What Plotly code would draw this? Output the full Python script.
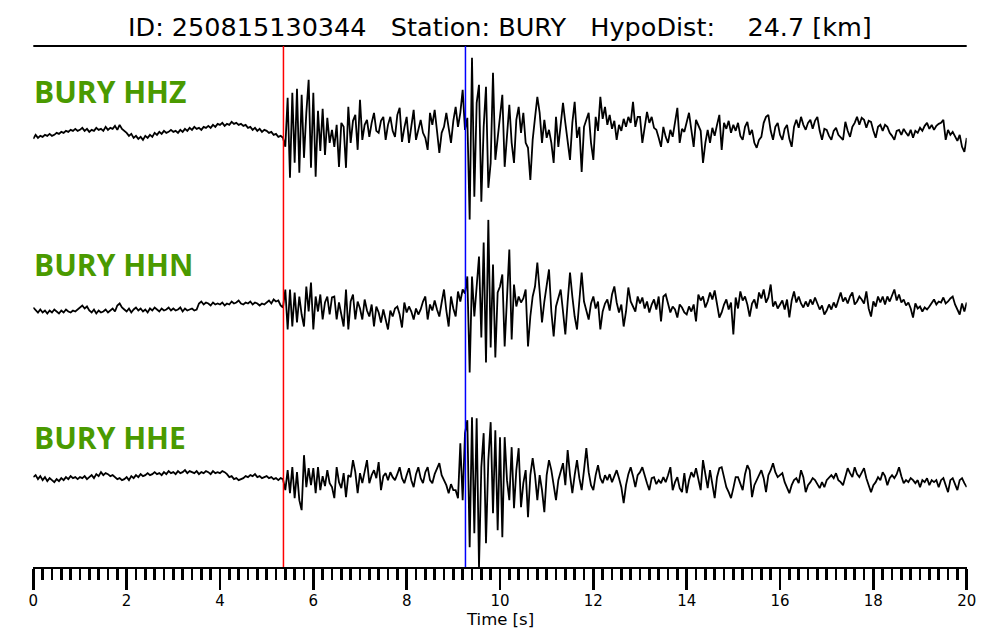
import plotly.graph_objects as go

# ---------------- data ----------------
SAMPLE_INTERVAL = 0.05   # seconds between samples
P_PICK = 5.36            # s (red line)
S_PICK = 9.26            # s (blue line)
CHANNELS = ["BURY HHZ", "BURY HHN", "BURY HHE"]
TITLE = "ID: 250815130344   Station: BURY   HypoDist:    24.7 [km]"
X_TICKS = [0, 2, 4, 6, 8, 10, 12, 14, 16, 18, 20]

hhz = [
    -6, -2, -5, -3, -4, -2, -3, -1, -3, -2, 0, -1, 1, 0, 2, 1, 3, 2, 4, 2,
    3, 5, 2, 4, 1, 3, 2, 5, 3, 4, 2, 6, 3, 5, 4, 7, 3, 8, 4, 2,
    0, -3, -1, -5, -3, -6, -4, -7, -3, -5, -2, -4, 0, -2, 1, -1, 2, 0, 1, 3,
    1, 2, 0, 3, 1, 4, 2, 5, 3, 6, 4, 5, 3, 6, 5, 7, 5, 8, 6, 9,
    8, 10, 7, 9, 8, 11, 9, 10, 8, 9, 7, 8, 5, 6, 3, 5, 2, 4, 1, 3,
    2, 0, 1, -2, -1, -4, -3, -5, -14, 35, -45, 40, -30, 44, -40, 38, -25, 20, 53, -35,
    40, -44, 22, -18, 24, -22, 15, -10, 3, -14, 8, -34, 10, 6, -35, 26, -10, 12, 18, -17,
    33, -7, 8, 13, -4, 10, 20, 2, 0, 12, 16, -7, 8, 16, 2, -4, 18, 25, -9, 5,
    16, -10, 5, 23, -7, 4, 13, 0, -5, -17, 20, 8, 23, 2, -20, 0, 6, 20, 3, -10,
    12, 26, 6, 20, 43, 3, 15, -87, 75, -64, 30, 48, -69, 6, 46, -55, -30, 60, -27, -4,
    20, 38, -34, 0, 28, -10, -30, 13, 26, 0, 20, -10, -15, -47, -7, 15, 36, 20, -10, 13,
    -5, 3, -10, -30, 16, -14, 5, 30, 10, -12, -27, 10, 31, -5, 6, -39, 6, 13, 20, -10,
    -27, 16, 2, 36, 14, 26, 8, 18, 4, 12, -7, 8, 2, 14, 6, 16, 10, 31, 6, 16,
    16, -10, 5, 21, 10, 16, 5, 3, -5, -14, 6, -4, -10, 3, -4, 10, 25, -10, 4, 1,
    12, 20, 3, -14, 13, 8, 2, -30, -10, 3, -10, 5, -3, 8, 18, -17, 10, 4, 12, 0,
    8, 2, 10, -3, -7, 6, 11, -2, 3, -10, -15, -7, -4, 10, 16, 18, 2, -7, 6, 10,
    -2, -7, 4, 8, -6, -14, 6, 13, 5, 16, 8, 3, 10, 13, 4, 12, 16, 2, -7, 4,
    3, -3, -7, 2, 5, -2, -5, -7, 11, 2, -4, 6, 10, 16, 8, 15, 13, 5, 12, 11,
    2, -5, 6, 8, 2, 8, 6, 0, -3, -7, 2, 3, -2, 4, 0, -3, 3, -5, 2, 0,
    5, 2, 7, 10, 4, 8, 3, 7, 9, 10, 13, -7, 3, -2, 1, -4, -8, -2, -14, -19,
    -5,
]

hhn = [
    -1, -4, -6, -3, -6, -4, -7, -4, -6, -3, -5, -7, -4, -6, -3, -5, -6, -4, -5, -3,
    -1, 1, -2, 0, -4, -6, -3, -7, -4, -6, -5, -3, -6, -4, -2, -5, 1, 3, -1, -3,
    -5, -2, -6, -3, -1, -4, -2, -5, -3, -6, -2, -4, -1, -3, -5, -2, -4, -3, -1, -4,
    -2, -4, -3, -1, -5, -2, -4, -3, -2, -4, -3, 3, 5, 2, 4, 3, 1, 4, 2, 3,
    2, 4, 1, 3, 2, 5, 3, 4, 6, 3, 2, 4, 3, 5, 2, 4, 3, 1, 3, 2,
    4, 6, 3, 7, 5, 6, 1, -1, 17, -23, 17, -20, 14, -16, 10, -8, -20, 20, -5, 24,
    -23, 10, -5, 12, -13, 4, 10, -8, 9, 10, -13, 4, -8, -20, 17, -23, 5, 12, -13, 5,
    -2, -13, 7, -4, -10, 2, -20, 0, -6, -16, -3, -12, -23, -4, -10, -2, 0, -8, -21, 4,
    -6, 0, -5, -13, -2, -8, -3, 5, 10, -13, 2, -4, 6, -3, -10, 4, 17, -4, -20, 10,
    -2, -10, 15, 5, 17, 13, 30, -66, 30, -10, 20, 50, -31, 64, -56, 87, -41, 42, -51, 14,
    20, 32, -40, 5, 57, -33, 22, 0, 10, 4, 8, 17, -40, -10, 10, 20, 44, 15, -16, 5,
    20, 37, -5, -30, 0, 8, 17, -5, -28, 5, 34, 10, -10, -23, 10, 34, 5, -5, -13, 3,
    10, -2, 5, -23, -5, 3, 7, -4, 12, 20, 4, -6, 2, -20, -5, 19, 5, 0, -5, 10,
    3, 9, -2, 5, -6, 2, 7, -3, 10, -15, 10, 12, 3, -6, 0, -3, -11, 2, -1, -6,
    -8, 0, -5, 2, -15, 12, 6, 10, -1, 5, 14, 7, 16, 3, -11, -6, 2, 7, -3, 4,
    -28, 9, -2, 15, 6, 10, 2, -10, 3, 7, -2, 14, 8, 17, 4, 9, 22, 0, 5, -2,
    2, 6, -3, 7, -11, 6, 15, 4, 10, 3, -1, 5, 0, 7, 2, 9, 3, -3, 1, -8,
    -4, 2, -3, 4, -1, 8, 14, 5, 9, 3, 10, 14, 2, 5, 10, 7, 3, 15, -2, -10,
    5, 0, 10, 4, 10, 2, 10, 5, 12, 17, 6, 12, 4, 7, 1, 4, -2, -11, 3, -2,
    0, -5, -1, -3, 0, 3, 7, 2, 5, 4, 9, 3, 5, 8, 10, 2, -3, -8, 3, -5,
    4,
]

hhe = [
    3, 5, 1, 4, 0, 3, -1, 2, 0, -2, 1, -1, 2, 0, 3, 1, 4, 2, 3, 1,
    3, 2, 4, 1, 3, 5, 2, 6, 4, 8, 5, 7, 6, 4, 5, 3, 1, 2, 0, 1,
    3, 0, 4, 2, 5, 3, 6, 4, 5, 7, 5, 6, 8, 6, 7, 5, 8, 6, 9, 7,
    8, 6, 9, 7, 8, 10, 7, 9, 8, 7, 9, 6, 8, 7, 9, 8, 6, 9, 7, 8,
    7, 9, 8, 6, 3, 4, 1, 2, 0, 1, 2, 4, 3, 5, 4, 6, 3, 4, 2, 3,
    4, 2, 3, 1, 2, 0, 2, 1, -10, 10, -13, 13, -18, 8, -20, -30, 25, -7, 12, -5,
    12, -13, 13, -10, 4, -6, 10, -3, -7, -18, 13, -2, -8, 7, -17, 5, 3, 20, 8, -13,
    7, -3, 8, 20, -3, 5, 10, 2, 18, -10, 4, 7, 0, 8, 3, 0, 6, 13, 2, -3,
    5, 12, 0, -7, 6, 13, 2, -3, 8, 13, 0, -3, 6, 12, 17, 5, 0, -5, -13, -4,
    -10, -10, -18, 37, -20, 47, 60, -67, 63, -53, 62, -87, 13, 47, -63, 20, 58, -33, 50, -50,
    43, -57, 43, 0, -20, 33, -28, 10, 32, -27, -3, 10, -37, 5, 22, 5, -20, 5, -10, -32,
    5, 20, 10, -5, -20, 0, 10, 17, -5, 30, 5, -13, 5, 20, 2, -10, 10, 32, 8, -5,
    -10, 5, 15, 2, -3, 5, 0, 6, -2, 4, 10, 2, -7, -23, -5, 6, 13, 4, -7, 5,
    8, 13, 4, -3, -10, 2, 3, -4, 0, -3, 3, -2, 5, 13, -10, -2, 3, -8, -12, 7,
    -13, 0, 8, 3, 12, 2, -10, 20, 5, -8, 10, -4, -18, 3, 12, 13, 2, -7, -12, -18,
    -8, 3, 3, -4, -10, 6, 15, 10, -17, -5, 0, 5, 10, 2, -12, 5, 10, 17, 8, 3,
    5, 7, -2, -8, -13, -5, 0, 2, -3, 10, 3, -12, -5, -2, 2, 0, -4, -8, -2, -7,
    0, 3, 5, 2, 7, 0, -2, -5, 4, 12, 7, 3, 13, 6, 3, 8, 12, 2, -4, -12,
    -5, -2, 3, 0, 8, 4, -5, 2, 5, 2, 6, 13, 4, -3, 0, -2, 2, 0, -3, 0,
    -7, 0, -2, 2, -5, 0, -2, 0, -7, 0, 2, -4, -12, 0, 2, -4, -10, 0, 2, -3,
    -7,
]

traces_data = [hhz, hhn, hhe]

# ---------------- layout constants ----------------
W, H = 1000, 640
X0, X1 = 33.3, 966.7          # px of plot area
TOP, BOTTOM = 46, 567         # px
GREEN = "#4a9a00"

def py(px):
    return 1 - px / H

fig = go.Figure()
n_ax = len(CHANNELS)
band = (BOTTOM - TOP) / n_ax
yaxis_names = ["y", "y2", "y3"]
for i, (name, vals) in enumerate(zip(CHANNELS, traces_data)):
    t = [k * SAMPLE_INTERVAL for k in range(len(vals))]
    fig.add_trace(go.Scatter(
        x=t, y=vals, mode="lines", name=name,
        line=dict(color="black", width=1.8),
        xaxis="x", yaxis=yaxis_names[i], showlegend=False, hoverinfo="skip",
    ))
    top_px = TOP + i * band
    bot_px = TOP + (i + 1) * band
    ax = dict(domain=[py(bot_px), py(top_px)], range=[-band / 2, band / 2],
              visible=False, fixedrange=True, automargin=False)
    if i > 0:
        ax["anchor"] = "x"
    fig.update_layout(**{("yaxis" if i == 0 else f"yaxis{i+1}"): ax})

fig.update_layout(
    width=W, height=H,
    margin=dict(l=0, r=0, t=0, b=0, pad=0, autoexpand=False),
    paper_bgcolor="white", plot_bgcolor="white",
    xaxis=dict(
        domain=[X0 / W, X1 / W], range=[0, 20], anchor="y3", automargin=False,
        showgrid=False, zeroline=False,
        showline=True, linecolor="black", linewidth=2,
        ticks="outside", tickvals=X_TICKS, ticklen=21, tickwidth=2.8, tickcolor="black",
        minor=dict(dtick=0.2, ticks="outside", ticklen=11, tickwidth=2.6, tickcolor="black", showgrid=False),
        tickfont=dict(family="DejaVu Sans", size=15, color="black"),
        ticklabelstandoff=-2,
        fixedrange=True,
    ),
    font=dict(family="DejaVu Sans", color="black"),
)

# title
fig.add_annotation(text=TITLE, x=0.5, y=py(27), xref="paper", yref="paper",
                   showarrow=False, xanchor="center", yanchor="middle",
                   font=dict(family="DejaVu Sans", size=25.5, color="black"))
# axis title
fig.add_annotation(text="Time [s]", x=(X0 + X1) / 2 / W, y=py(619), xref="paper", yref="paper",
                   showarrow=False, xanchor="center", yanchor="middle",
                   font=dict(family="DejaVu Sans", size=16.5, color="black"))
# channel labels
label_centers = [91, 264, 437]
for name, yc in zip(CHANNELS, label_centers):
    fig.add_annotation(text=name, x=32 / W, y=py(yc), xref="paper", yref="paper",
                       showarrow=False, xanchor="left", yanchor="middle",
                       font=dict(family="Open Sans", size=30, color=GREEN, weight="bold"))

# top rule
fig.add_shape(type="line", xref="paper", yref="paper", x0=X0 / W, x1=X1 / W,
              y0=py(TOP), y1=py(TOP), line=dict(color="black", width=2))
# picks
for tp, col in [(P_PICK, "red"), (S_PICK, "blue")]:
    fig.add_shape(type="line", xref="x", yref="paper", x0=tp, x1=tp,
                  y0=py(BOTTOM), y1=py(TOP), line=dict(color=col, width=1.5), layer="above")

fig.write_html("out.html",
               config={"displayModeBar": False, "staticPlot": True},
               post_script="document.body.style.margin='0px';document.body.style.overflow='hidden';")
